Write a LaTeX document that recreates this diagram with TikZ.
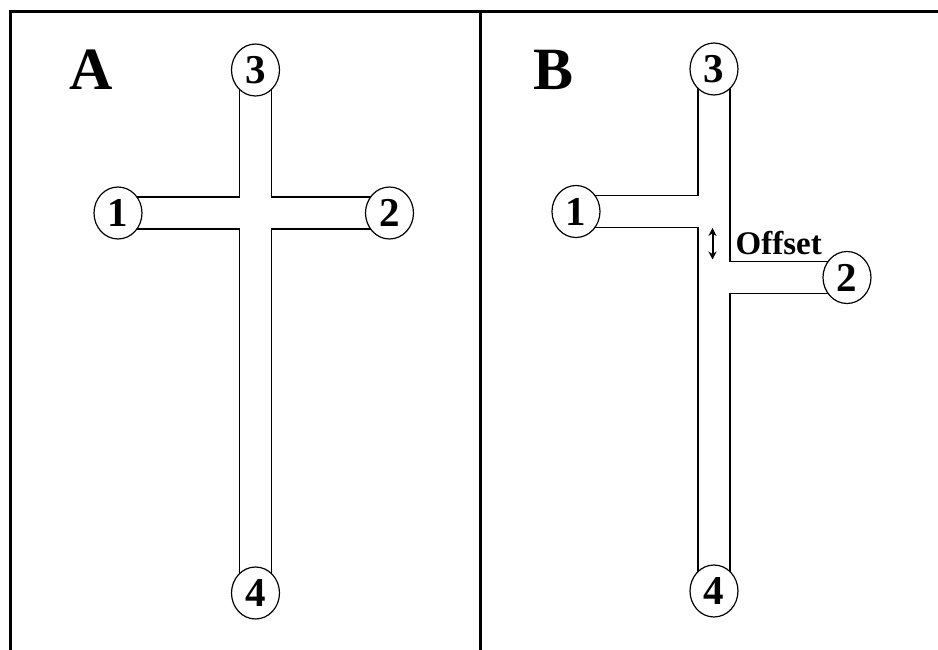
\documentclass[tikz,border=0pt]{standalone}
\usepackage{fontspec}
\setmainfont{Liberation Serif}
\usetikzlibrary{shapes.geometric,arrows.meta,calc}
\tikzset{
  port/.style={ellipse,draw,line width=1.2pt,fill=white,minimum width=48pt,minimum height=52pt,inner sep=0pt,font=\fontsize{41}{41}\selectfont\bfseries},
  chan/.style={line width=1.4pt,line join=miter},
  frame/.style={line width=3pt},
  panel/.style={anchor=base west,inner sep=0pt,font=\fontsize{60}{60}\selectfont\bfseries},
  offs/.style={anchor=base west,inner sep=0pt,font=\fontsize{33}{33}\selectfont\bfseries},
  darrow/.style={line width=2pt,{Stealth[length=8pt,width=8pt]}-{Stealth[length=8pt,width=8pt]}}
}
\begin{document}
\begin{tikzpicture}[x=1pt,y=-1pt]
\useasboundingbox (0,0) rectangle (938,650);
\clip (0,0) rectangle (938,650);
\fill[white] (0,0) rectangle (938,650);
% frame
\draw[frame] (10,12) rectangle (960,680);
\draw[frame] (480,12) -- (480,680);
% ---------- Panel A ----------
\coordinate (pa1) at (118,213);
\coordinate (pa2) at (389.5,213);
\coordinate (pa3) at (255.5,70);
\coordinate (pa4) at (255.5,593);
\draw[chan] ($(pa3)+(-16,0)$) |- ($(pa1)+(0,-16)$);
\draw[chan] ($(pa3)+(16,0)$) |- ($(pa2)+(0,-16)$);
\draw[chan] ($(pa4)+(-16,0)$) |- ($(pa1)+(0,16)$);
\draw[chan] ($(pa4)+(16,0)$) |- ($(pa2)+(0,16)$);
\node[port] (a1) at (pa1) {1};
\node[port] (a2) at (pa2) {2};
\node[port] (a3) at (pa3) {3};
\node[port] (a4) at (pa4) {4};
\node[panel] (la) at (69,90) {A};
% ---------- Panel B ----------
\coordinate (pb1) at (576,211.5);
\coordinate (pb2) at (847,277.5);
\coordinate (pb3) at (714,69);
\coordinate (pb4) at (714,591);
\draw[chan] ($(pb3)+(-16,0)$) |- ($(pb1)+(0,-16)$);
\draw[chan] ($(pb4)+(-16,0)$) |- ($(pb1)+(0,16)$);
\draw[chan] ($(pb3)+(16,0)$) |- ($(pb2)+(0,-16)$);
\draw[chan] ($(pb4)+(16,0)$) |- ($(pb2)+(0,16)$);
\node[port] (b1) at (pb1) {1};
\node[port] (b2) at (pb2) {2};
\node[port] (b3) at (pb3) {3};
\node[port] (b4) at (pb4) {4};
\node[panel] (lb) at (533,90) {B};
\coordinate (ot) at (712.5,228);
\coordinate (ob) at (712.5,259.5);
\draw[darrow] (ot) -- (ob);
\node[offs] (off) at (735.5,254.5) {Offset};
\end{tikzpicture}
\end{document}
